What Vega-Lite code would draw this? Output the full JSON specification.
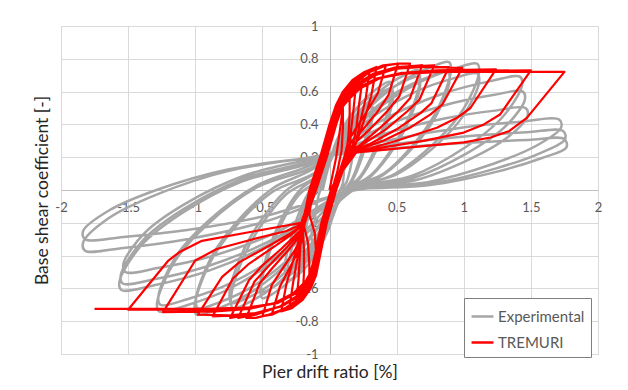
{
"$schema": "https://vega.github.io/schema/vega-lite/v6.json",
"width": 537, "height": 328,
"autosize": "none",
"padding": {"left": 61, "top": 26, "right": 30, "bottom": 36},
"background": "white",
"config": {"font": "Lato", "view": {"stroke": null}},
"datasets": {
"exp": [
{"x":-0.05,"y":0},
{"x":0.0,"y":0.16},{"x":0.052,"y":0.256},{"x":0.095,"y":0.304},{"x":0.12,"y":0.32},{"x":0.135,"y":0.27},{"x":0.116,"y":0.201},{"x":0.108,"y":0.116},{"x":0.096,"y":0.031},{"x":0.06,"y":-0.03},{"x":0.02,"y":-0.17},{"x":-0.04,"y":-0.26},{"x":-0.09,"y":-0.305},{"x":-0.12,"y":-0.32},{"x":-0.135,"y":-0.27},{"x":-0.113,"y":-0.198},{"x":-0.099,"y":-0.11},{"x":-0.078,"y":-0.023},{"x":-0.05,"y":0.03},
{"x":0.025,"y":0.24},{"x":0.1,"y":0.366},{"x":0.163,"y":0.429},{"x":0.2,"y":0.45},{"x":0.215,"y":0.40},{"x":0.188,"y":0.286},{"x":0.164,"y":0.168},{"x":0.128,"y":0.051},{"x":0.07,"y":-0.02},{"x":-0.004,"y":-0.235},{"x":-0.088,"y":-0.364},{"x":-0.158,"y":-0.429},{"x":-0.2,"y":-0.45},{"x":-0.215,"y":-0.40},{"x":-0.185,"y":-0.275},{"x":-0.155,"y":-0.15},{"x":-0.11,"y":-0.025},{"x":-0.05,"y":0.05},
{"x":0.055,"y":0.305},{"x":0.16,"y":0.458},{"x":0.248,"y":0.535},{"x":0.3,"y":0.56},{"x":0.315,"y":0.51},{"x":0.278,"y":0.357},{"x":0.234,"y":0.212},{"x":0.168,"y":0.067},{"x":0.09,"y":-0.03},{"x":-0.034,"y":-0.285},{"x":-0.148,"y":-0.444},{"x":-0.243,"y":-0.524},{"x":-0.3,"y":-0.55},{"x":-0.315,"y":-0.50},{"x":-0.275,"y":-0.337},{"x":-0.225,"y":-0.184},{"x":-0.15,"y":-0.032},{"x":-0.06,"y":0.06},
{"x":0.058,"y":0.29},{"x":0.166,"y":0.428},{"x":0.256,"y":0.497},{"x":0.31,"y":0.52},{"x":0.325,"y":0.47},{"x":0.287,"y":0.331},{"x":0.241,"y":0.196},{"x":0.172,"y":0.061},{"x":0.1,"y":-0.01},{"x":-0.04,"y":-0.27},{"x":-0.16,"y":-0.42},{"x":-0.26,"y":-0.495},{"x":-0.32,"y":-0.52},{"x":-0.335,"y":-0.47},{"x":-0.293,"y":-0.314},{"x":-0.239,"y":-0.166},{"x":-0.158,"y":-0.019},{"x":-0.06,"y":0.07},
{"x":0.1,"y":0.365},{"x":0.25,"y":0.542},{"x":0.375,"y":0.631},{"x":0.45,"y":0.66},{"x":0.465,"y":0.61},{"x":0.413,"y":0.422},{"x":0.339,"y":0.252},{"x":0.228,"y":0.082},{"x":0.12,"y":0.0},{"x":-0.094,"y":-0.34},{"x":-0.268,"y":-0.532},{"x":-0.413,"y":-0.628},{"x":-0.5,"y":-0.66},{"x":-0.515,"y":-0.61},{"x":-0.455,"y":-0.401},{"x":-0.365,"y":-0.216},{"x":-0.23,"y":-0.031},{"x":-0.06,"y":0.08},
{"x":0.103,"y":0.35},{"x":0.256,"y":0.512},{"x":0.384,"y":0.593},{"x":0.46,"y":0.62},{"x":0.475,"y":0.57},{"x":0.422,"y":0.396},{"x":0.346,"y":0.236},{"x":0.232,"y":0.076},{"x":0.1,"y":-0.03},{"x":-0.094,"y":-0.32},{"x":-0.268,"y":-0.5},{"x":-0.413,"y":-0.59},{"x":-0.5,"y":-0.62},{"x":-0.515,"y":-0.57},{"x":-0.455,"y":-0.368},{"x":-0.365,"y":-0.188},{"x":-0.23,"y":-0.008},{"x":-0.07,"y":0.1},
{"x":0.163,"y":0.415},{"x":0.376,"y":0.604},{"x":0.554,"y":0.699},{"x":0.66,"y":0.73},{"x":0.675,"y":0.68},{"x":0.602,"y":0.468},{"x":0.486,"y":0.28},{"x":0.312,"y":0.093},{"x":0.14,"y":0.0},{"x":-0.16,"y":-0.37},{"x":-0.4,"y":-0.58},{"x":-0.6,"y":-0.685},{"x":-0.72,"y":-0.72},{"x":-0.735,"y":-0.67},{"x":-0.653,"y":-0.433},{"x":-0.519,"y":-0.228},{"x":-0.318,"y":-0.023},{"x":-0.07,"y":0.1},
{"x":0.163,"y":0.395},{"x":0.376,"y":0.572},{"x":0.554,"y":0.661},{"x":0.66,"y":0.69},{"x":0.675,"y":0.64},{"x":0.602,"y":0.442},{"x":0.486,"y":0.264},{"x":0.312,"y":0.087},{"x":0.12,"y":-0.02},{"x":-0.163,"y":-0.355},{"x":-0.406,"y":-0.556},{"x":-0.609,"y":-0.657},{"x":-0.73,"y":-0.69},{"x":-0.745,"y":-0.64},{"x":-0.662,"y":-0.407},{"x":-0.526,"y":-0.204},{"x":-0.322,"y":-0.002},{"x":-0.08,"y":0.12},
{"x":0.232,"y":0.45},{"x":0.514,"y":0.648},{"x":0.749,"y":0.747},{"x":0.89,"y":0.78},{"x":0.905,"y":0.73},{"x":0.809,"y":0.5},{"x":0.647,"y":0.3},{"x":0.404,"y":0.1},{"x":0.16,"y":0.01},{"x":-0.241,"y":-0.39},{"x":-0.562,"y":-0.612},{"x":-0.83,"y":-0.723},{"x":-0.99,"y":-0.76},{"x":-1.005,"y":-0.71},{"x":-0.896,"y":-0.452},{"x":-0.708,"y":-0.232},{"x":-0.426,"y":-0.012},{"x":-0.08,"y":0.12},
{"x":0.229,"y":0.42},{"x":0.508,"y":0.6},{"x":0.741,"y":0.69},{"x":0.88,"y":0.72},{"x":0.895,"y":0.67},{"x":0.8,"y":0.461},{"x":0.64,"y":0.276},{"x":0.4,"y":0.091},{"x":0.14,"y":-0.01},{"x":-0.238,"y":-0.37},{"x":-0.556,"y":-0.58},{"x":-0.821,"y":-0.685},{"x":-0.98,"y":-0.72},{"x":-0.995,"y":-0.67},{"x":-0.887,"y":-0.419},{"x":-0.701,"y":-0.204},{"x":-0.422,"y":0.011},{"x":-0.1,"y":0.14},
{"x":0.295,"y":0.455},{"x":0.64,"y":0.644},{"x":0.928,"y":0.739},{"x":1.1,"y":0.77},{"x":1.115,"y":0.72},{"x":0.998,"y":0.494},{"x":0.794,"y":0.296},{"x":0.488,"y":0.099},{"x":0.18,"y":0.0},{"x":-0.325,"y":-0.38},{"x":-0.73,"y":-0.596},{"x":-1.068,"y":-0.704},{"x":-1.27,"y":-0.74},{"x":-1.285,"y":-0.69},{"x":-1.148,"y":-0.429},{"x":-0.904,"y":-0.206},{"x":-0.538,"y":0.017},{"x":-0.1,"y":0.15},
{"x":0.295,"y":0.43},{"x":0.64,"y":0.598},{"x":0.928,"y":0.682},{"x":1.1,"y":0.71},{"x":1.115,"y":0.66},{"x":0.998,"y":0.455},{"x":0.794,"y":0.272},{"x":0.488,"y":0.09},{"x":0.15,"y":0.01},{"x":-0.322,"y":-0.36},{"x":-0.724,"y":-0.564},{"x":-1.059,"y":-0.666},{"x":-1.26,"y":-0.7},{"x":-1.275,"y":-0.65},{"x":-1.139,"y":-0.399},{"x":-0.897,"y":-0.184},{"x":-0.534,"y":0.031},{"x":-0.12,"y":0.16},
{"x":0.391,"y":0.425},{"x":0.832,"y":0.584},{"x":1.2,"y":0.664},{"x":1.42,"y":0.69},{"x":1.435,"y":0.64},{"x":1.286,"y":0.442},{"x":1.018,"y":0.264},{"x":0.616,"y":0.087},{"x":0.2,"y":0.01},{"x":-0.409,"y":-0.315},{"x":-0.898,"y":-0.492},{"x":-1.306,"y":-0.581},{"x":-1.55,"y":-0.61},{"x":-1.565,"y":-0.56},{"x":-1.4,"y":-0.337},{"x":-1.1,"y":-0.142},{"x":-0.65,"y":0.053},{"x":-0.12,"y":0.17},
{"x":0.397,"y":0.385},{"x":0.844,"y":0.514},{"x":1.217,"y":0.579},{"x":1.44,"y":0.6},{"x":1.455,"y":0.55},{"x":1.304,"y":0.383},{"x":1.032,"y":0.228},{"x":0.624,"y":0.073},{"x":0.17,"y":0.0},{"x":-0.406,"y":-0.295},{"x":-0.892,"y":-0.46},{"x":-1.297,"y":-0.543},{"x":-1.54,"y":-0.57},{"x":-1.555,"y":-0.52},{"x":-1.391,"y":-0.308},{"x":-1.093,"y":-0.12},{"x":-0.646,"y":0.068},{"x":-0.12,"y":0.18},
{"x":0.403,"y":0.34},{"x":0.856,"y":0.436},{"x":1.234,"y":0.484},{"x":1.46,"y":0.5},{"x":1.475,"y":0.45},{"x":1.322,"y":0.318},{"x":1.046,"y":0.188},{"x":0.632,"y":0.058},{"x":0.2,"y":0.02},{"x":-0.4,"y":-0.26},{"x":-0.88,"y":-0.404},{"x":-1.28,"y":-0.476},{"x":-1.52,"y":-0.5},{"x":-1.535,"y":-0.45},{"x":-1.373,"y":-0.259},{"x":-1.079,"y":-0.086},{"x":-0.638,"y":0.087},{"x":-0.14,"y":0.19},
{"x":0.478,"y":0.31},{"x":1.006,"y":0.382},{"x":1.446,"y":0.418},{"x":1.71,"y":0.43},{"x":1.725,"y":0.38},{"x":1.547,"y":0.273},{"x":1.221,"y":0.16},{"x":0.732,"y":0.048},{"x":0.22,"y":0.01},{"x":-0.49,"y":-0.195},{"x":-1.06,"y":-0.3},{"x":-1.535,"y":-0.353},{"x":-1.82,"y":-0.37},{"x":-1.835,"y":-0.32},{"x":-1.643,"y":-0.171},{"x":-1.289,"y":-0.028},{"x":-0.758,"y":0.115},{"x":-0.14,"y":0.2},
{"x":0.487,"y":0.28},{"x":1.024,"y":0.328},{"x":1.472,"y":0.352},{"x":1.74,"y":0.36},{"x":1.755,"y":0.31},{"x":1.574,"y":0.227},{"x":1.242,"y":0.132},{"x":0.744,"y":0.037},{"x":0.2,"y":0.0},{"x":-0.49,"y":-0.16},{"x":-1.06,"y":-0.244},{"x":-1.535,"y":-0.286},{"x":-1.82,"y":-0.3},{"x":-1.835,"y":-0.25},{"x":-1.643,"y":-0.125},{"x":-1.289,"y":0.0},{"x":-0.758,"y":0.125},{"x":-0.1,"y":0.2},
{"x":0.49,"y":0.255},{"x":1.03,"y":0.288},{"x":1.48,"y":0.305},{"x":1.75,"y":0.31},{"x":1.765,"y":0.26},{"x":1.583,"y":0.195},{"x":1.249,"y":0.112},{"x":0.748,"y":0.03},{"x":0.22,"y":0.01}
],
"trem": [
{"x":0,"y":0},{"x":0.05,"y":0.2},{"x":0.08,"y":0.38},{"x":0.1,"y":0.5},{"x":0.1,"y":0.38},{"x":0.09,"y":0.24},{"x":0.06,"y":0.12},{"x":0.02,"y":0.0},{"x":-0.04,"y":-0.2},{"x":-0.08,"y":-0.38},{"x":-0.1,"y":-0.5},{"x":-0.1,"y":-0.38},{"x":-0.11,"y":-0.26},{"x":-0.15,"y":-0.15},
{"x":-0.13,"y":0.0},{"x":-0.05,"y":0.2},{"x":0.02,"y":0.4},{"x":0.07,"y":0.52},{"x":0.15,"y":0.6},{"x":0.15,"y":0.46},{"x":0.14,"y":0.32},{"x":0.12,"y":0.2},{"x":0.03,"y":0.0},{"x":-0.04,"y":-0.2},{"x":-0.09,"y":-0.4},{"x":-0.12,"y":-0.52},{"x":-0.15,"y":-0.6},{"x":-0.15,"y":-0.46},{"x":-0.16,"y":-0.32},{"x":-0.19,"y":-0.22},
{"x":-0.11,"y":0.0},{"x":-0.03,"y":0.2},{"x":0.04,"y":0.4},{"x":0.09,"y":0.52},{"x":0.14,"y":0.6},{"x":0.2,"y":0.66},{"x":0.18,"y":0.5},{"x":0.16,"y":0.36},{"x":0.15,"y":0.24},{"x":0.08,"y":0.1},{"x":0.01,"y":0.0},{"x":-0.06,"y":-0.2},{"x":-0.11,"y":-0.4},{"x":-0.14,"y":-0.52},{"x":-0.17,"y":-0.6},{"x":-0.2,"y":-0.66},{"x":-0.19,"y":-0.5},{"x":-0.19,"y":-0.36},{"x":-0.2,"y":-0.24},
{"x":-0.14,"y":0.0},{"x":-0.06,"y":0.2},{"x":0.01,"y":0.4},{"x":0.06,"y":0.52},{"x":0.11,"y":0.6},{"x":0.18,"y":0.66},{"x":0.25,"y":0.7},{"x":0.22,"y":0.52},{"x":0.2,"y":0.38},{"x":0.17,"y":0.26},{"x":0.1,"y":0.12},{"x":0.04,"y":0.0},{"x":-0.03,"y":-0.2},{"x":-0.08,"y":-0.4},{"x":-0.11,"y":-0.52},{"x":-0.15,"y":-0.6},{"x":-0.2,"y":-0.66},{"x":-0.25,"y":-0.7},{"x":-0.23,"y":-0.54},{"x":-0.22,"y":-0.38},{"x":-0.21,"y":-0.24},
{"x":-0.12,"y":0.0},{"x":-0.04,"y":0.2},{"x":0.03,"y":0.4},{"x":0.08,"y":0.52},{"x":0.12,"y":0.6},{"x":0.19,"y":0.67},{"x":0.3,"y":0.73},{"x":0.27,"y":0.56},{"x":0.23,"y":0.42},{"x":0.2,"y":0.3},{"x":0.18,"y":0.23},{"x":0.09,"y":0.12},{"x":0.02,"y":0.0},{"x":-0.05,"y":-0.2},{"x":-0.1,"y":-0.4},{"x":-0.13,"y":-0.52},{"x":-0.17,"y":-0.61},{"x":-0.23,"y":-0.67},{"x":-0.3,"y":-0.72},{"x":-0.27,"y":-0.56},{"x":-0.24,"y":-0.42},{"x":-0.22,"y":-0.3},{"x":-0.2,"y":-0.21},
{"x":-0.15,"y":0.0},{"x":-0.07,"y":0.2},{"x":0.0,"y":0.4},{"x":0.05,"y":0.52},{"x":0.1,"y":0.6},{"x":0.17,"y":0.67},{"x":0.26,"y":0.72},{"x":0.35,"y":0.75},{"x":0.31,"y":0.57},{"x":0.26,"y":0.43},{"x":0.21,"y":0.31},{"x":0.17,"y":0.24},{"x":0.1,"y":0.13},{"x":0.05,"y":0.0},{"x":-0.02,"y":-0.2},{"x":-0.07,"y":-0.4},{"x":-0.1,"y":-0.52},{"x":-0.14,"y":-0.6},{"x":-0.2,"y":-0.67},{"x":-0.28,"y":-0.72},{"x":-0.36,"y":-0.74},{"x":-0.32,"y":-0.57},{"x":-0.27,"y":-0.43},{"x":-0.23,"y":-0.31},{"x":-0.21,"y":-0.23},
{"x":-0.13,"y":0.0},{"x":-0.05,"y":0.2},{"x":0.02,"y":0.4},{"x":0.07,"y":0.52},{"x":0.11,"y":0.59},{"x":0.18,"y":0.66},{"x":0.28,"y":0.72},{"x":0.42,"y":0.76},{"x":0.36,"y":0.59},{"x":0.28,"y":0.48},{"x":0.2,"y":0.38},{"x":0.14,"y":0.3},{"x":0.11,"y":0.2},{"x":0.07,"y":0.1},{"x":0.02,"y":0.0},{"x":-0.05,"y":-0.2},{"x":-0.1,"y":-0.4},{"x":-0.13,"y":-0.52},{"x":-0.16,"y":-0.6},{"x":-0.23,"y":-0.67},{"x":-0.32,"y":-0.72},{"x":-0.43,"y":-0.76},{"x":-0.37,"y":-0.59},{"x":-0.3,"y":-0.48},{"x":-0.23,"y":-0.37},{"x":-0.2,"y":-0.29},{"x":-0.2,"y":-0.21},
{"x":-0.11,"y":0.0},{"x":-0.03,"y":0.2},{"x":0.04,"y":0.4},{"x":0.09,"y":0.52},{"x":0.13,"y":0.59},{"x":0.2,"y":0.66},{"x":0.3,"y":0.72},{"x":0.42,"y":0.76},{"x":0.51,"y":0.77},{"x":0.44,"y":0.58},{"x":0.36,"y":0.48},{"x":0.25,"y":0.37},{"x":0.16,"y":0.29},{"x":0.13,"y":0.25},{"x":0.08,"y":0.12},{"x":0.01,"y":0.0},{"x":-0.06,"y":-0.2},{"x":-0.11,"y":-0.4},{"x":-0.14,"y":-0.52},{"x":-0.17,"y":-0.6},{"x":-0.24,"y":-0.67},{"x":-0.33,"y":-0.72},{"x":-0.43,"y":-0.76},{"x":-0.5,"y":-0.77},{"x":-0.43,"y":-0.58},{"x":-0.35,"y":-0.48},{"x":-0.26,"y":-0.37},{"x":-0.21,"y":-0.29},{"x":-0.19,"y":-0.23},
{"x":-0.14,"y":0.0},{"x":-0.06,"y":0.2},{"x":0.01,"y":0.4},{"x":0.06,"y":0.52},{"x":0.11,"y":0.59},{"x":0.18,"y":0.66},{"x":0.28,"y":0.72},{"x":0.4,"y":0.76},{"x":0.5,"y":0.77},{"x":0.6,"y":0.77},{"x":0.52,"y":0.57},{"x":0.43,"y":0.48},{"x":0.3,"y":0.37},{"x":0.18,"y":0.28},{"x":0.14,"y":0.24},{"x":0.1,"y":0.12},{"x":0.04,"y":0.0},{"x":-0.03,"y":-0.2},{"x":-0.08,"y":-0.4},{"x":-0.11,"y":-0.52},{"x":-0.15,"y":-0.6},{"x":-0.22,"y":-0.67},{"x":-0.32,"y":-0.72},{"x":-0.45,"y":-0.76},{"x":-0.55,"y":-0.78},{"x":-0.62,"y":-0.78},{"x":-0.52,"y":-0.57},{"x":-0.43,"y":-0.48},{"x":-0.31,"y":-0.37},{"x":-0.23,"y":-0.29},{"x":-0.2,"y":-0.23},
{"x":-0.12,"y":0.0},{"x":-0.04,"y":0.2},{"x":0.03,"y":0.4},{"x":0.08,"y":0.52},{"x":0.13,"y":0.58},{"x":0.21,"y":0.65},{"x":0.33,"y":0.71},{"x":0.5,"y":0.75},{"x":0.69,"y":0.76},{"x":0.6,"y":0.56},{"x":0.5,"y":0.47},{"x":0.35,"y":0.36},{"x":0.22,"y":0.27},{"x":0.16,"y":0.24},{"x":0.1,"y":0.12},{"x":0.02,"y":0.0},{"x":-0.05,"y":-0.2},{"x":-0.1,"y":-0.4},{"x":-0.13,"y":-0.52},{"x":-0.17,"y":-0.58},{"x":-0.25,"y":-0.65},{"x":-0.37,"y":-0.71},{"x":-0.55,"y":-0.76},{"x":-0.68,"y":-0.78},{"x":-0.56,"y":-0.56},{"x":-0.46,"y":-0.47},{"x":-0.33,"y":-0.36},{"x":-0.24,"y":-0.28},{"x":-0.2,"y":-0.23},
{"x":-0.1,"y":0.0},{"x":-0.02,"y":0.2},{"x":0.05,"y":0.4},{"x":0.1,"y":0.52},{"x":0.14,"y":0.57},{"x":0.22,"y":0.64},{"x":0.34,"y":0.7},{"x":0.52,"y":0.745},{"x":0.66,"y":0.755},{"x":0.78,"y":0.76},{"x":0.67,"y":0.55},{"x":0.58,"y":0.48},{"x":0.42,"y":0.37},{"x":0.25,"y":0.28},{"x":0.17,"y":0.24},{"x":0.09,"y":0.12},{"x":0.01,"y":0.0},{"x":-0.06,"y":-0.2},{"x":-0.11,"y":-0.4},{"x":-0.14,"y":-0.52},{"x":-0.17,"y":-0.58},{"x":-0.25,"y":-0.65},{"x":-0.37,"y":-0.71},{"x":-0.56,"y":-0.755},{"x":-0.74,"y":-0.78},{"x":-0.6,"y":-0.55},{"x":-0.5,"y":-0.46},{"x":-0.36,"y":-0.36},{"x":-0.26,"y":-0.28},{"x":-0.2,"y":-0.23},
{"x":-0.15,"y":0.0},{"x":-0.07,"y":0.2},{"x":0.0,"y":0.4},{"x":0.05,"y":0.52},{"x":0.11,"y":0.57},{"x":0.19,"y":0.64},{"x":0.31,"y":0.7},{"x":0.5,"y":0.74},{"x":0.65,"y":0.75},{"x":0.89,"y":0.75},{"x":0.76,"y":0.53},{"x":0.68,"y":0.47},{"x":0.5,"y":0.37},{"x":0.3,"y":0.28},{"x":0.18,"y":0.24},{"x":0.1,"y":0.12},{"x":0.05,"y":0.0},{"x":-0.02,"y":-0.2},{"x":-0.07,"y":-0.4},{"x":-0.1,"y":-0.52},{"x":-0.15,"y":-0.58},{"x":-0.23,"y":-0.65},{"x":-0.36,"y":-0.71},{"x":-0.55,"y":-0.75},{"x":-0.7,"y":-0.765},{"x":-0.87,"y":-0.77},{"x":-0.72,"y":-0.54},{"x":-0.6,"y":-0.45},{"x":-0.42,"y":-0.35},{"x":-0.28,"y":-0.27},{"x":-0.21,"y":-0.22},
{"x":-0.13,"y":0.0},{"x":-0.05,"y":0.2},{"x":0.02,"y":0.4},{"x":0.07,"y":0.52},{"x":0.12,"y":0.57},{"x":0.2,"y":0.64},{"x":0.32,"y":0.7},{"x":0.5,"y":0.74},{"x":0.7,"y":0.75},{"x":0.99,"y":0.745},{"x":0.84,"y":0.52},{"x":0.75,"y":0.46},{"x":0.6,"y":0.38},{"x":0.4,"y":0.3},{"x":0.2,"y":0.24},{"x":0.1,"y":0.12},{"x":0.03,"y":0.0},{"x":-0.04,"y":-0.2},{"x":-0.09,"y":-0.4},{"x":-0.12,"y":-0.52},{"x":-0.16,"y":-0.58},{"x":-0.24,"y":-0.65},{"x":-0.36,"y":-0.71},{"x":-0.55,"y":-0.75},{"x":-0.75,"y":-0.765},{"x":-0.98,"y":-0.76},{"x":-0.8,"y":-0.53},{"x":-0.67,"y":-0.44},{"x":-0.45,"y":-0.34},{"x":-0.3,"y":-0.27},{"x":-0.21,"y":-0.22},
{"x":-0.11,"y":0.0},{"x":-0.03,"y":0.2},{"x":0.04,"y":0.4},{"x":0.09,"y":0.5},{"x":0.14,"y":0.55},{"x":0.23,"y":0.62},{"x":0.37,"y":0.68},{"x":0.56,"y":0.715},{"x":0.8,"y":0.73},{"x":1.24,"y":0.735},{"x":1.05,"y":0.5},{"x":0.95,"y":0.44},{"x":0.8,"y":0.38},{"x":0.5,"y":0.3},{"x":0.2,"y":0.23},{"x":0.09,"y":0.12},{"x":0.01,"y":0.0},{"x":-0.06,"y":-0.2},{"x":-0.11,"y":-0.4},{"x":-0.14,"y":-0.5},{"x":-0.18,"y":-0.56},{"x":-0.27,"y":-0.63},{"x":-0.41,"y":-0.69},{"x":-0.6,"y":-0.725},{"x":-0.85,"y":-0.74},{"x":-1.24,"y":-0.745},{"x":-1.0,"y":-0.43},{"x":-0.84,"y":-0.36},{"x":-0.57,"y":-0.3},{"x":-0.32,"y":-0.25},{"x":-0.21,"y":-0.21},
{"x":-0.14,"y":0.0},{"x":-0.06,"y":0.2},{"x":0.01,"y":0.4},{"x":0.06,"y":0.5},{"x":0.12,"y":0.55},{"x":0.21,"y":0.62},{"x":0.35,"y":0.68},{"x":0.54,"y":0.715},{"x":0.8,"y":0.725},{"x":1.5,"y":0.73},{"x":1.27,"y":0.46},{"x":1.15,"y":0.4},{"x":1.0,"y":0.35},{"x":0.7,"y":0.3},{"x":0.4,"y":0.26},{"x":0.2,"y":0.23},{"x":0.1,"y":0.12},{"x":0.04,"y":0.0},{"x":-0.03,"y":-0.2},{"x":-0.08,"y":-0.4},{"x":-0.11,"y":-0.5},{"x":-0.16,"y":-0.56},{"x":-0.25,"y":-0.63},{"x":-0.39,"y":-0.69},{"x":-0.6,"y":-0.72},{"x":-0.9,"y":-0.73},{"x":-1.5,"y":-0.73},{"x":-1.2,"y":-0.43},{"x":-1.12,"y":-0.38},{"x":-0.95,"y":-0.31},{"x":-0.55,"y":-0.25},{"x":-0.21,"y":-0.2},
{"x":-0.13,"y":0.0},{"x":-0.05,"y":0.2},{"x":0.02,"y":0.4},{"x":0.07,"y":0.5},{"x":0.13,"y":0.55},{"x":0.22,"y":0.62},{"x":0.36,"y":0.68},{"x":0.55,"y":0.71},{"x":0.85,"y":0.72},{"x":1.75,"y":0.72},{"x":1.47,"y":0.44},{"x":1.34,"y":0.36},{"x":1.2,"y":0.32},{"x":1.0,"y":0.29},{"x":0.6,"y":0.26},{"x":0.2,"y":0.23},{"x":0.1,"y":0.12},{"x":0.03,"y":0.0},{"x":-0.04,"y":-0.2},{"x":-0.09,"y":-0.4},{"x":-0.12,"y":-0.5},{"x":-0.17,"y":-0.56},{"x":-0.26,"y":-0.63},{"x":-0.4,"y":-0.69},{"x":-0.6,"y":-0.715},{"x":-0.9,"y":-0.725},{"x":-1.75,"y":-0.725}
]
},
"layer": [
{
"data": {"name": "exp"},
"mark": {"type": "line", "interpolate": "catmull-rom", "strokeWidth": 2.5, "strokeJoin": "round"},
"encoding": {
"x": {"field": "x", "type": "quantitative", "scale": {"domain": [-2, 2], "nice": false, "zero": false},
"axis": {"orient": "bottom", "values": [-2,-1.5,-1,-0.5,0,0.5,1,1.5,2], "grid": true, "gridColor": "#d9d9d9", "gridWidth": 1, "labels": false, "ticks": false, "domain": false, "title": null}},
"y": {"field": "y", "type": "quantitative", "scale": {"domain": [-1, 1], "nice": false, "zero": false},
"axis": {"orient": "left", "values": [-1,-0.8,-0.6,-0.4,-0.2,0,0.2,0.4,0.6,0.8,1], "grid": true, "gridColor": "#d9d9d9", "gridWidth": 1, "labels": false, "ticks": false, "domain": false, "title": null}},
"order": {"value": null},
"color": {"datum": "Experimental", "type": "nominal",
"scale": {"domain": ["Experimental", "TREMURI"], "range": ["#a6a6a6", "#ff0000"]},
"legend": {"title": null, "orient": "none", "legendX": 403, "legendY": 272, "strokeColor": "#7f7f7f", "fillColor": "white", "padding": 6, "labelFont": "Lato", "labelFontSize": 15, "labelColor": "#595959", "symbolType": "stroke", "symbolStrokeWidth": 2.5, "symbolSize": 480, "rowPadding": 5, "labelOffset": 3}}
}
},
{
"data": {"name": "trem"},
"mark": {"type": "line", "strokeWidth": 2.2, "strokeJoin": "round"},
"encoding": {
"x": {"field": "x", "type": "quantitative",
"axis": {"orient": "bottom", "values": [-2,-1.5,-1,-0.5,0,0.5,1,1.5,2], "offset": -164, "grid": false, "ticks": false, "domainColor": "#bfbfbf", "domainWidth": 1, "labelExpr": "'' + datum.value", "labelFont": "Lato", "labelFontSize": 13, "labelColor": "#595959", "labelPadding": 11, "labelFlush": false, "labelOverlap": false, "labelBound": false, "title": "Pier drift ratio [%]", "titleFont": "Lato", "titleFontSize": 17.5, "titleFontWeight": "normal", "titleColor": "#262626", "titleX": 268.5, "titleY": 182, "titleBaseline": "middle", "titleAlign": "center"}},
"y": {"field": "y", "type": "quantitative",
"axis": {"orient": "left", "values": [-1,-0.8,-0.6,-0.4,-0.2,0,0.2,0.4,0.6,0.8,1], "offset": -269, "grid": false, "ticks": false, "domainColor": "#bfbfbf", "domainWidth": 1, "labelExpr": "'' + datum.value", "labelFont": "Lato", "labelFontSize": 13, "labelColor": "#595959", "labelPadding": 12, "labelFlush": false, "labelOverlap": false, "labelBound": false, "title": "Base shear coefficient [-]", "titleFont": "Lato", "titleFontSize": 17.5, "titleFontWeight": "normal", "titleColor": "#262626", "titleX": -288, "titleY": 164, "titleAngle": -90, "titleBaseline": "middle", "titleAlign": "center"}},
"order": {"value": null},
"color": {"datum": "TREMURI", "type": "nominal"}
}
}
],
"resolve": {"axis": {"x": "independent", "y": "independent"}}
}
